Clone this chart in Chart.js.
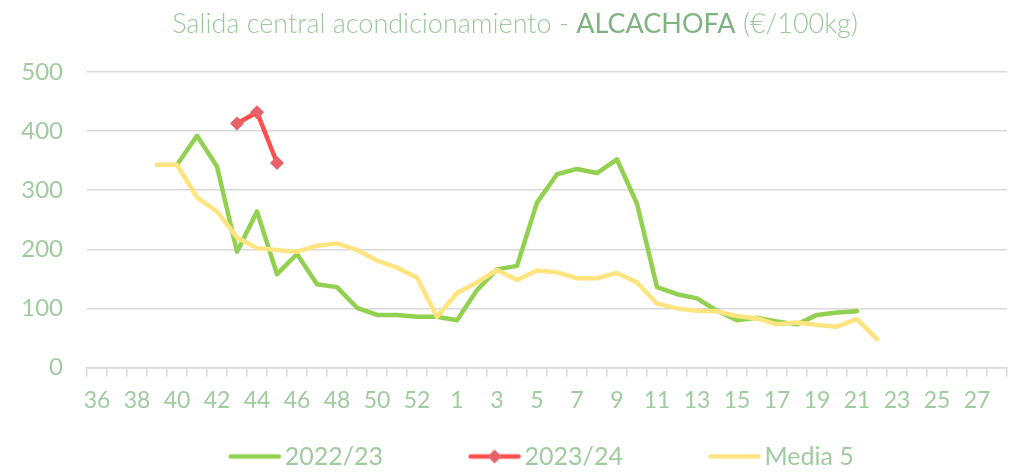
<!DOCTYPE html>
<html>
<head>
<meta charset="utf-8">
<script src="https://cdn.jsdelivr.net/npm/chart.js@4.4.1/dist/chart.umd.min.js"></script>
<style>
  body { margin: 0; background: #fff; }
  #wrap { position: relative; width: 1030px; height: 475px; }
  #titulo {
    position: absolute; left: 0; top: 6px; width: 1030px;
    text-align: center; font-family: Lato, "Open Sans", sans-serif;
    font-weight: 300; font-size: 27px; color: #9cc89c; white-space: nowrap;
  }
  #titulo b { font-weight: 400; color: #7fb37f; }
</style>
</head>
<body>
<div id="wrap">
  <canvas id="grafico" width="1030" height="475"></canvas>
  <div id="titulo">Salida central acondicionamiento - <b>ALCACHOFA</b> (€/100kg)</div>
</div>
<script>
// semanas de campaña (la 53 va sin etiqueta)
const semanas = ["36","37","38","39","40","41","42","43","44","45","46","47","48","49","50","51","52","53",
  "1","2","3","4","5","6","7","8","9","10","11","12","13","14","15","16","17","18","19","20",
  "21","22","23","24","25","26","27","28"];

const campana2223 = [null,null,null,null,343,392,340,196,264,158,192,141,136,101,89,89,86,86,
  80,131,166,172,279,327,336,329,352,277,136,124,117,96,80,84,78,73,89,93,
  95,null,null,null,null,null,null,null];

const campana2324 = [null,null,null,null,null,null,null,413,432,346,null,null,null,null,null,null,null,null,
  null,null,null,null,null,null,null,null,null,null,null,null,null,null,null,null,null,null,null,null,
  null,null,null,null,null,null,null,null];

const media5 = [null,null,null,343,343,288,264,220,202,199,196,206,210,199,181,169,152,86,
  126,144,165,148,164,161,151,151,160,144,108,100,96,95,87,83,73,76,72,69,
  82,48,null,null,null,null,null,null];

const VERDE = "#92d050";
const ROJO = "#ff5050";
const ROMBO = "#e8616a";
const AMARILLO = "#ffe480";
const TEXTO = "#a0cba0";
const REJILLA = "#d9d9d9";

// muestra de la leyenda: hueco transparente a la izquierda + trazo (y rombo)
const HUECO = 84;
function muestra(color, conRombo) {
  const c = document.createElement("canvas");
  c.width = HUECO + 54;
  c.height = 18;
  const g = c.getContext("2d");
  g.strokeStyle = color;
  g.lineWidth = 4.5;
  g.lineCap = "round";
  g.beginPath();
  g.moveTo(HUECO + 3, 9);
  g.lineTo(c.width - 3, 9);
  g.stroke();
  if (conRombo) {
    const cx = HUECO + 27;
    g.fillStyle = ROMBO;
    g.beginPath();
    g.moveTo(cx, 2); g.lineTo(cx + 7, 9); g.lineTo(cx, 16); g.lineTo(cx - 7, 9);
    g.closePath();
    g.fill();
  }
  return c;
}
const muestras = [muestra(VERDE, false), muestra(ROJO, true), muestra(AMARILLO, false)];

const fuente = (size) => ({ family: "Lato, 'Open Sans', sans-serif", size: size });

new Chart(document.getElementById("grafico"), {
  type: "line",
  data: {
    labels: semanas,
    datasets: [
      {
        label: "2022/23",
        data: campana2223,
        borderColor: VERDE,
        borderWidth: 4.5,
        pointRadius: 0,
        order: 2
      },
      {
        label: "2023/24",
        data: campana2324,
        borderColor: ROJO,
        borderWidth: 4.5,
        pointStyle: "rectRot",
        pointRadius: 7,
        pointBackgroundColor: ROMBO,
        pointBorderWidth: 0,
        order: 1
      },
      {
        label: "Media 5",
        data: media5,
        borderColor: AMARILLO,
        borderWidth: 4.5,
        pointRadius: 0,
        order: 0
      }
    ]
  },
  options: {
    responsive: false,
    animation: false,
    spanGaps: false,
    elements: { line: { tension: 0, borderJoinStyle: "round", borderCapStyle: "round" } },
    layout: { padding: { top: 72, right: 23, bottom: -4, left: 0 } },
    plugins: {
      title: { display: false },
      tooltip: { enabled: false },
      legend: {
        position: "bottom",
        labels: {
          usePointStyle: true,
          pointStyleWidth: HUECO + 35,
          padding: 10,
          color: TEXTO,
          font: fuente(25),
          generateLabels: (chart) => chart.data.datasets.map((ds, i) => ({
            text: ds.label,
            pointStyle: muestras[i],
            fontColor: TEXTO,
            datasetIndex: i,
            hidden: false
          }))
        }
      }
    },
    scales: {
      x: {
        offset: true,
        grid: { offset: true, drawOnChartArea: false, color: REJILLA, lineWidth: 1.5, tickLength: 9 },
        border: { color: REJILLA, width: 1.5 },
        ticks: {
          autoSkip: false,
          maxRotation: 0,
          padding: 10,
          color: TEXTO,
          font: fuente(23),
          callback: (v, i) => (i % 2 === 0 ? semanas[i] : "")
        },
        afterFit: (s) => { s.height = 66.5; }
      },
      y: {
        min: 0,
        max: 500,
        ticks: { stepSize: 100, padding: 24, color: TEXTO, font: fuente(24) },
        grid: { color: REJILLA, lineWidth: 1.5, drawTicks: false },
        border: { display: false },
        afterFit: (s) => { s.width = 87; }
      }
    }
  }
});
</script>
</body>
</html>
